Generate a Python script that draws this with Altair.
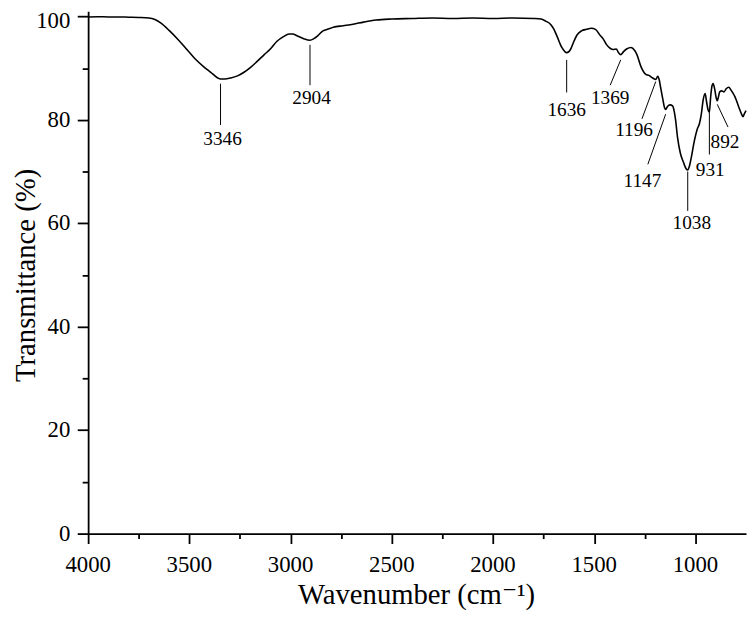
import altair as alt
import pandas as pd

# ---- spectrum ----
wavenumber = [4000, 3950, 3900, 3850, 3800, 3750, 3700, 3670, 3640, 3600, 3555, 3510,
              3472, 3430, 3394, 3360, 3346, 3326, 3295, 3262, 3230, 3199, 3165, 3130,
              3100, 3067, 3035, 3008, 2990, 2965, 2935, 2904, 2885, 2865, 2840, 2810,
              2789, 2740, 2691, 2640, 2578, 2500, 2400, 2300, 2200, 2100, 2000, 1900,
              1800, 1763, 1740, 1714, 1700, 1684, 1660, 1645, 1636, 1625, 1616, 1600,
              1585, 1563, 1538, 1514, 1494, 1470, 1455, 1440, 1420, 1406, 1391, 1380,
              1369, 1355, 1340, 1318, 1300, 1290, 1269, 1245, 1230, 1211, 1196, 1186,
              1178, 1172, 1162, 1152, 1147, 1138, 1125, 1113, 1104, 1098, 1088, 1074,
              1060, 1045, 1038, 1030, 1020, 1006, 991, 980, 972, 961, 952, 945, 938,
              931, 925, 918, 913, 905, 898, 892, 887, 880, 870, 859, 848, 835, 825,
              815, 805, 796, 785, 771, 765, 758, 750]
transmittance = [99.9, 99.95, 99.9, 99.9, 99.85, 99.8, 99.7, 99.4, 98.7, 97.3, 95.5, 93.5,
                 91.8, 90.3, 89.2, 88.1, 87.9, 87.9, 88.1, 88.5, 89.2, 90.1, 91.3, 92.6,
                 93.7, 95.2, 96.1, 96.6, 96.6, 96.2, 95.7, 95.4, 95.7, 96.3, 97.2, 97.6,
                 97.9, 98.2, 98.5, 98.9, 99.3, 99.5, 99.6, 99.7, 99.6, 99.7, 99.6, 99.7,
                 99.6, 99.5, 99.1, 98.4, 97.6, 96.2, 94.0, 93.2, 93.0, 93.2, 93.7, 95.2,
                 96.4, 97.2, 97.5, 97.7, 97.5, 96.3, 95.6, 94.6, 93.8, 93.6, 93.7, 93.0,
                 92.6, 93.2, 93.7, 94.0, 93.4, 92.7, 90.3, 88.8, 88.6, 88.1, 87.8, 88.4,
                 87.6, 86.3, 84.2, 82.3, 82.0, 82.6, 82.9, 82.7, 81.5, 80.0, 76.5, 73.5,
                 71.9, 70.5, 70.3, 71.0, 72.8, 75.8, 78.2, 79.3, 80.8, 84.0, 85.1, 83.5, 82.0,
                 81.5, 84.3, 86.6, 87.0, 86.0, 84.4, 83.7, 84.3, 85.4, 85.6, 85.4, 86.0, 86.3, 85.8,
                 85.2, 84.5, 83.6, 82.4, 81.0, 80.6, 81.2, 81.8]

# ---- peak annotations (data coordinates) ----
peak_labels = ["3346", "2904", "1636", "1369", "1196", "1147", "1038", "931", "892"]
leader_x1 = [3346, 2904, 1636, 1369, 1196, 1147, 1038, 931, 892]
leader_y1 = [87.0, 94.5, 91.6, 91.6, 87.4, 81.1, 70.0, 81.5, 83.0]
leader_x2 = [3346, 2904, 1636, 1421, 1264, 1235, 1038, 931, 839]
leader_y2 = [79.0, 86.7, 85.3, 86.7, 80.2, 71.4, 62.4, 73.3, 78.6]
label_x = [3336, 2896, 1636, 1421, 1303, 1262, 1018, 927, 854]
label_y = [76.3, 84.2, 81.9, 84.2, 78.1, 68.1, 60.1, 70.2, 75.8]

# ---- axes ----
x_ticks = list(range(1000, 4001, 250))
y_ticks = list(range(0, 101, 10))
x_tick_labels = [4000, 3500, 3000, 2500, 2000, 1500, 1000]
y_tick_labels = [0, 20, 40, 60, 80]
y_top_label = [100]
x_title = "Wavenumber (cm\u207b\u00b9)"
y_title = "Transmittance (%)"

spec = pd.DataFrame({"wn": wavenumber, "t": transmittance})
ann = pd.DataFrame({"label": peak_labels, "x1": leader_x1, "y1": leader_y1,
                    "x2": leader_x2, "y2": leader_y2, "lx": label_x, "ly": label_y})
xl = pd.DataFrame({"v": x_tick_labels, "s": [str(v) for v in x_tick_labels]})
yl = pd.DataFrame({"v": y_tick_labels, "s": [str(v) for v in y_tick_labels]})
yl_top = pd.DataFrame({"v": y_top_label, "s": [str(v) for v in y_top_label]})

FONT = "Liberation Serif, DejaVu Serif, serif"
x_scale = alt.Scale(domain=[4000, 750], nice=False, zero=False)
y_scale = alt.Scale(domain=[0, 101], nice=False, zero=False)

common = dict(
    grid=False, labels=False, title="",
    domainColor="black", domainWidth=1.8,
    tickColor="black", tickWidth=1.8,
)
x_axis = alt.Axis(
    values=x_ticks,
    tickSize={"condition": {"test": "datum.value % 500 === 0", "value": 10}, "value": 5},
    **common,
)
y_axis = alt.Axis(
    values=y_ticks,
    tickSize={"condition": {"test": "datum.value % 20 === 0", "value": 11}, "value": 6},
    **common,
)

line = alt.Chart(spec).mark_line(color="black", strokeWidth=1.6, interpolate="monotone").encode(
    x=alt.X("wn:Q", scale=x_scale, axis=x_axis),
    y=alt.Y("t:Q", scale=y_scale, axis=y_axis),
)

leaders = alt.Chart(ann).mark_rule(color="black", strokeWidth=1).encode(
    x=alt.X("x1:Q", scale=x_scale, axis=x_axis),
    y=alt.Y("y1:Q", scale=y_scale, axis=y_axis),
    x2="x2:Q",
    y2="y2:Q",
)

labels = alt.Chart(ann).mark_text(font=FONT, fontSize=19.5, color="black",
                                  align="center", baseline="middle").encode(
    x=alt.X("lx:Q", scale=x_scale, axis=x_axis),
    y=alt.Y("ly:Q", scale=y_scale, axis=y_axis),
    text="label:N",
)

x_labels = alt.Chart(xl).mark_text(font=FONT, fontSize=23, color="black",
                                   align="center", baseline="alphabetic").encode(
    x=alt.X("v:Q", scale=x_scale, axis=x_axis),
    y=alt.value(567),
    text="s:N",
)

y_labels = alt.Chart(yl).mark_text(font=FONT, fontSize=23, color="black",
                                   align="right", baseline="middle").encode(
    x=alt.value(-18),
    y=alt.Y("v:Q", scale=y_scale, axis=y_axis),
    text="s:N",
)

y_label_top = alt.Chart(yl_top).mark_text(font=FONT, fontSize=23, color="black",
                                          align="right", baseline="middle", dy=5).encode(
    x=alt.value(-18),
    y=alt.Y("v:Q", scale=y_scale, axis=y_axis),
    text="s:N",
)

x_title_mark = alt.Chart(pd.DataFrame({"s": [x_title]})).mark_text(
    font=FONT, fontSize=29, color="black", align="center", baseline="alphabetic"
).encode(x=alt.value(332), y=alt.value(599), text="s:N")

y_title_mark = alt.Chart(pd.DataFrame({"s": [y_title]})).mark_text(
    font=FONT, fontSize=29, color="black", align="center", baseline="alphabetic", angle=270
).encode(x=alt.value(-54), y=alt.value(267), text="s:N")

chart = alt.layer(line, leaders, labels, x_labels, y_labels, y_label_top,
                  x_title_mark, y_title_mark).properties(
    width=665, height=528,
    autosize=alt.AutoSizeParams(type="none"),
    padding={"left": 81, "top": 0, "right": 2, "bottom": 78},
    background="white",
).configure_view(stroke=None)

chart.save("out.html", embed_options={"renderer": "svg", "actions": False})
